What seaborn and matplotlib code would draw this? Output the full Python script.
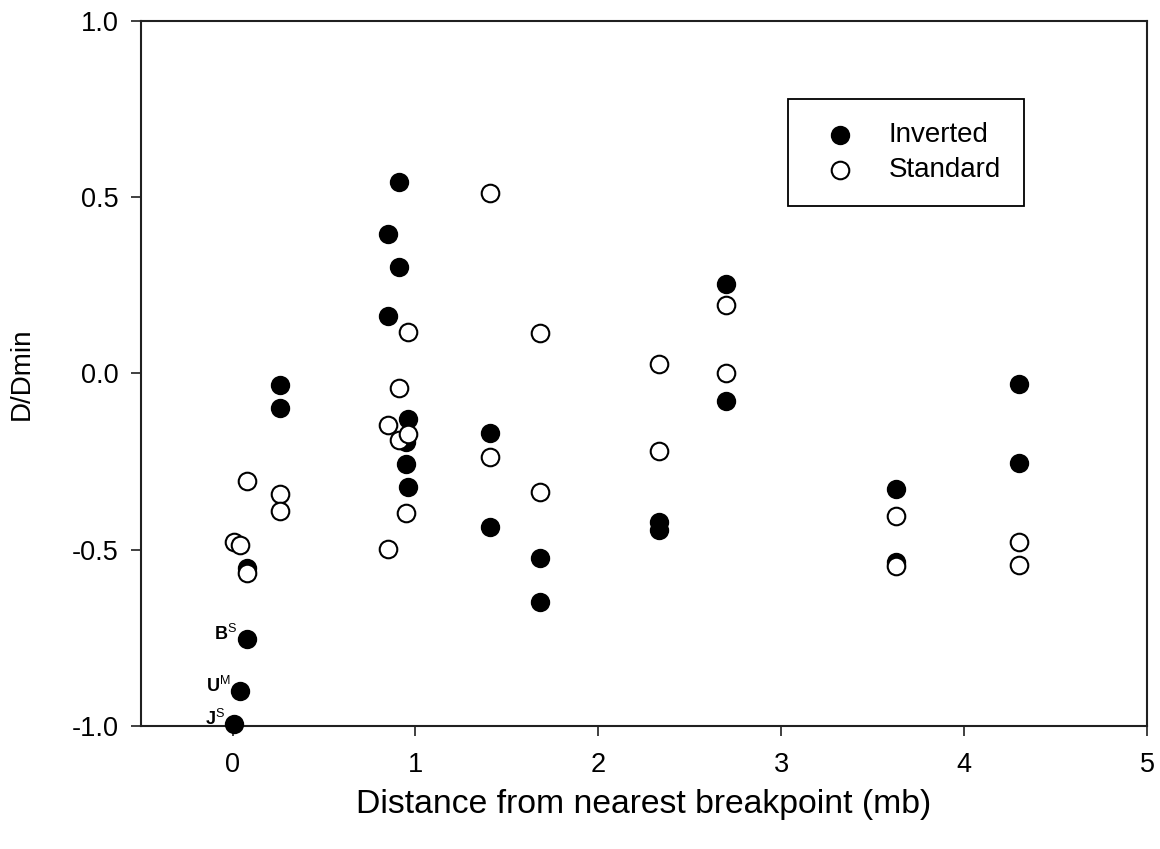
import matplotlib
matplotlib.use('Agg')
import matplotlib.pyplot as plt
import seaborn as sns
import pandas as pd

# values
inv_dist = [0.01, 0.04, 0.08, 0.08, 0.26, 0.26, 0.85, 0.85, 0.91, 0.91, 0.96, 0.95, 0.95, 0.96,
            1.41, 1.41, 1.68, 1.68, 2.33, 2.33, 2.70, 2.70, 3.63, 3.63, 4.30, 4.30]
inv_d = [-0.994, -0.900, -0.753, -0.552, -0.033, -0.099, 0.395, 0.163, 0.544, 0.301, -0.130, -0.193, -0.257, -0.323,
         -0.170, -0.435, -0.524, -0.647, -0.420, -0.444, 0.254, -0.077, -0.327, -0.534, -0.030, -0.253]

std_dist = [0.01, 0.04, 0.08, 0.08, 0.26, 0.26, 0.85, 0.85, 0.91, 0.91, 0.96, 0.96, 0.95,
            1.41, 1.41, 1.68, 1.68, 2.33, 2.33, 2.70, 2.70, 3.63, 3.63, 4.30, 4.30]
std_d = [-0.477, -0.487, -0.305, -0.565, -0.343, -0.390, -0.146, -0.499, -0.040, -0.189, 0.119, -0.172, -0.395,
         0.511, -0.236, 0.115, -0.336, 0.027, -0.220, 0.194, 0.000, -0.404, -0.546, -0.477, -0.543]

# labelled inverted points
lab_text = [r'$\mathbf{B}^{\mathrm{S}}$', r'$\mathbf{U}^{\mathrm{M}}$', r'$\mathbf{J}^{\mathrm{S}}$']
lab_dist = [0.08, 0.04, 0.01]
lab_d = [-0.753, -0.900, -0.994]

x_ticks = [0, 1, 2, 3, 4, 5]
y_ticks = [-1.0, -0.5, 0.0, 0.5, 1.0]

sns.set_style('ticks')
plt.rcParams['font.family'] = ['Liberation Sans', 'DejaVu Sans']
plt.rcParams['axes.unicode_minus'] = False
plt.rcParams['mathtext.fontset'] = 'custom'
plt.rcParams['mathtext.rm'] = 'Liberation Sans'
plt.rcParams['mathtext.bf'] = 'Liberation Sans:bold'
for k in ['text.color', 'axes.labelcolor', 'xtick.labelcolor', 'ytick.labelcolor']:
    plt.rcParams[k] = 'black'

inv = pd.DataFrame({'dist': inv_dist, 'd': inv_d})
std = pd.DataFrame({'dist': std_dist, 'd': std_d})

fig, ax = plt.subplots(figsize=(11.6, 8.49), dpi=100)
fig.subplots_adjust(left=0.1216, right=0.9888, bottom=0.1449, top=0.9753)

sns.scatterplot(data=inv, x='dist', y='d', color='black', edgecolor='black',
                s=160, linewidth=1.3, label='Inverted', ax=ax, zorder=3)
sns.scatterplot(data=std, x='dist', y='d', color='white', edgecolor='black',
                s=160, linewidth=1.5, label='Standard', ax=ax, zorder=4)
for c in ax.collections:
    c.set_clip_on(False)

for t, x, y in zip(lab_text, lab_dist, lab_d):
    ax.annotate(t, xy=(x, y), xytext=(-7, -1), textcoords='offset points',
                ha='right', va='baseline', fontsize=13)

ax.set_xlim(-0.5, 5)
ax.set_ylim(-1, 1)
ax.set_xticks(x_ticks)
ax.set_yticks(y_ticks)
ax.set_yticklabels([f'{v:.1f}' for v in y_ticks])
ax.tick_params(direction='out', length=7, width=1.2, labelsize=19.5, color='#202020')
ax.tick_params(axis='x', pad=12)
ax.tick_params(axis='y', pad=9)

for sp in ax.spines.values():
    sp.set_visible(True)
    sp.set_linewidth(1.5)
    sp.set_color('#202020')

ax.set_xlabel('Distance from nearest breakpoint (mb)', fontsize=24.3, labelpad=8)
ax.set_ylabel('D/Dmin', fontsize=20)
ax.yaxis.set_label_coords(-0.106, 0.5)

leg = ax.legend(loc='upper left', bbox_to_anchor=(0.643, 0.889), frameon=True, fancybox=False,
                edgecolor='black', framealpha=1, fontsize=20, borderpad=0.82, labelspacing=0.33,
                handlelength=2.14, handletextpad=0.67, borderaxespad=0)
leg.get_frame().set_linewidth(1.3)

plt.savefig('out.png', dpi=100)
